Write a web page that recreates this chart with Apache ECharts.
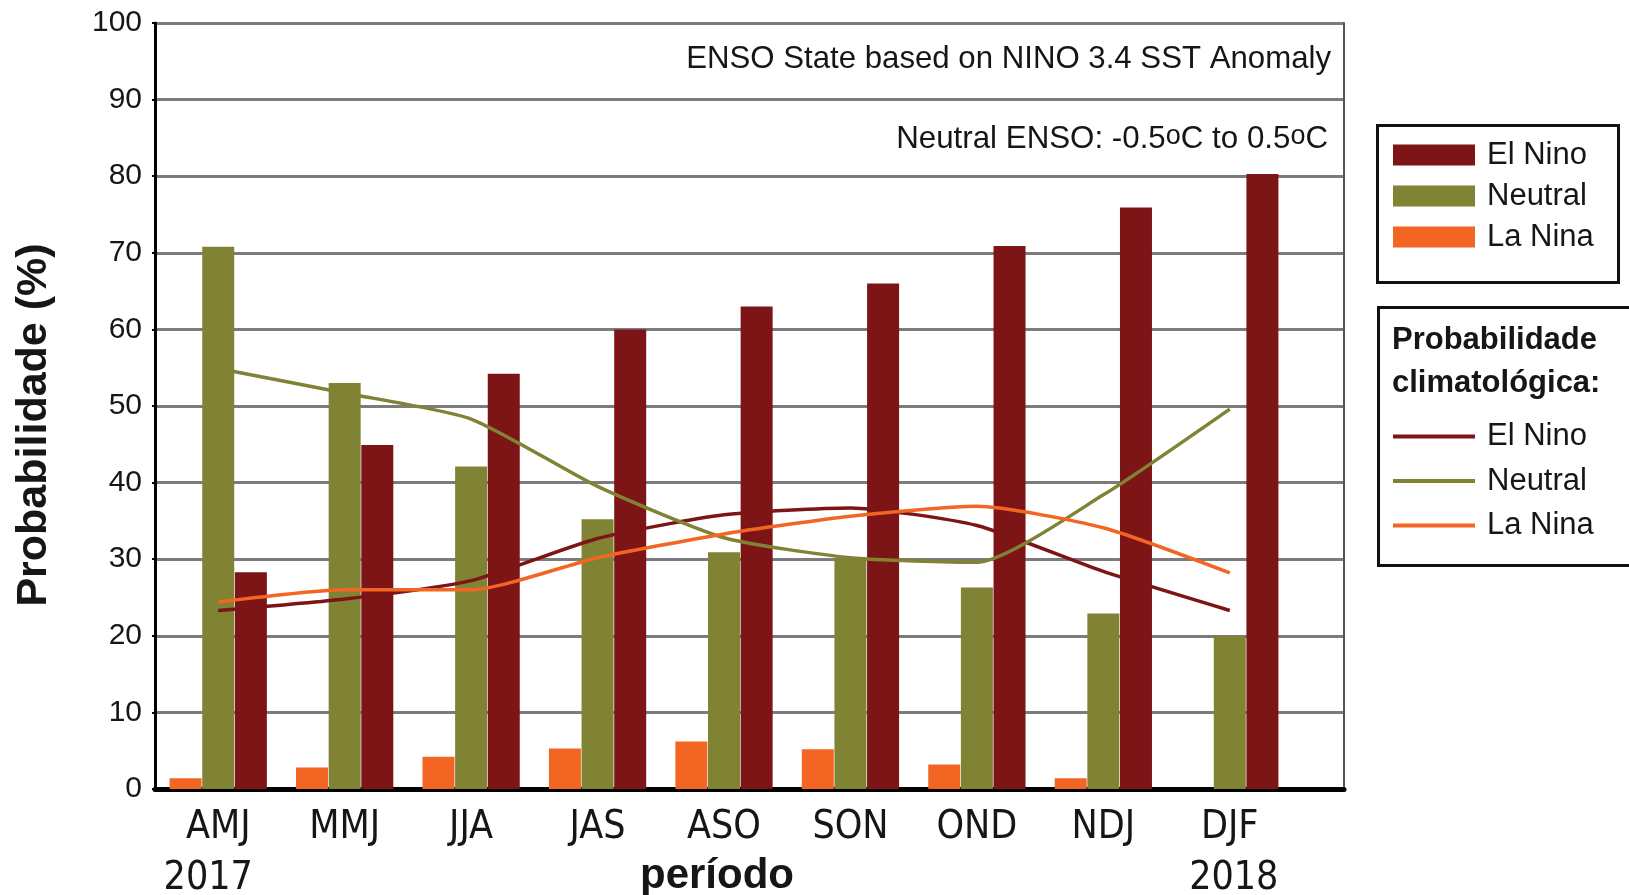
<!DOCTYPE html>
<html>
<head>
<meta charset="utf-8">
<script src="https://cdn.jsdelivr.net/npm/echarts@6/dist/echarts.min.js"></script>
<style>
html,body{margin:0;padding:0;background:#fff;}
#chart{width:1629px;height:895px;}
</style>
</head>
<body>
<div id="chart"></div>
<script>
// ---- data ----
const categories = ['AMJ', 'MMJ', 'JJA', 'JAS', 'ASO', 'SON', 'OND', 'NDJ', 'DJF'];
const yearLabels = ['2017', '', '', '', '', '', '', '', '2018'];
const barElNino = [28.3, 44.9, 54.2, 60.0, 63.0, 66.0, 70.9, 75.9, 80.3];
const barNeutral = [70.8, 53.0, 42.1, 35.2, 30.9, 30.1, 26.3, 22.9, 20.0];
const barLaNina = [1.4, 2.8, 4.2, 5.3, 6.2, 5.2, 3.2, 1.4, 0];
const climElNino = [23.3, 24.8, 27.2, 32.7, 35.8, 36.7, 34.4, 28.4, 23.3];
const climNeutral = [54.9, 51.7, 48.3, 39.5, 32.8, 30.2, 29.6, 38.4, 49.6];
const climLaNina = [24.4, 26.0, 26.0, 30.2, 33.3, 35.6, 36.9, 34.1, 28.2];
const yMin = 0, yMax = 100, yInterval = 10;

const C_EL = '#7d1416', C_NEU = '#808234', C_LA = '#f26522';
const FONT = '"Liberation Sans", Arial, sans-serif';
const NARROW = '"Liberation Sans Narrow", "Arial Narrow", "DejaVu Sans Condensed", sans-serif';
const TXT = '#161616';

const chart = echarts.init(document.getElementById('chart'), null, {renderer: 'canvas'});

const option = {
  animation: false,
  backgroundColor: '#fff',
  textStyle: {fontFamily: FONT},
  grid: [
    {left: 155, right: 285, top: 23, bottom: 106, containLabel: false, outerBoundsMode: 'none'},
    {left: 155, right: 336, top: 23, bottom: 106, containLabel: false, outerBoundsMode: 'none'}
  ],
  xAxis: [
    {
      type: 'value', gridIndex: 0, min: 0, max: 1,
      axisLine: {show: true, lineStyle: {color: '#000', width: 5}},
      axisTick: {show: false}, axisLabel: {show: false}, splitLine: {show: false}
    },
    {
      type: 'category', gridIndex: 1, data: categories,
      axisLine: {show: false}, axisTick: {show: false},
      axisLabel: {
        margin: 13,
        interval: 0,
        formatter: function (v, i) {
          const y = yearLabels[i];
          if (!y) return '{c|' + v + '}';
          return '{c|' + v + '}\n{' + (i === 0 ? 'ya' : 'yb') + '|' + y + '}';
        },
        rich: {
          c: {fontFamily: NARROW, fontSize: 39, lineHeight: 51, color: TXT},
          ya: {fontFamily: NARROW, fontSize: 39, lineHeight: 51, color: TXT, padding: [0, 20, 0, 0]},
          yb: {fontFamily: NARROW, fontSize: 39, lineHeight: 51, color: TXT, padding: [0, 0, 0, 8]}
        }
      }
    }
  ],
  yAxis: [
    {
      type: 'value', gridIndex: 0, min: yMin, max: yMax, interval: yInterval,
      axisLine: {show: true, onZero: false, lineStyle: {color: '#000', width: 3}},
      axisTick: {show: true, length: 3, lineStyle: {color: '#000', width: 2}},
      axisLabel: {fontSize: 30, color: TXT, margin: 13, fontFamily: FONT},
      splitLine: {show: true, lineStyle: {color: '#7c7c7c', width: 3}}
    },
    {
      type: 'value', gridIndex: 0, position: 'right', min: yMin, max: yMax, interval: yInterval,
      axisLine: {show: true, onZero: false, lineStyle: {color: '#555', width: 2}},
      axisTick: {show: false}, axisLabel: {show: false}, splitLine: {show: false}
    },
    {
      type: 'value', gridIndex: 1, min: yMin, max: yMax, interval: yInterval, show: false,
      splitLine: {show: false}
    }
  ],
  legend: [
    {
      data: ['El Nino', 'Neutral', 'La Nina'],
      orient: 'vertical', left: 1393, top: 139.5, padding: 0,
      icon: 'rect', itemWidth: 82, itemHeight: 21, itemGap: 10,
      textStyle: {fontSize: 31, lineHeight: 21, color: TXT, fontFamily: FONT, padding: [0, 0, 0, 7]}
    },
    {
      data: ['El Nino (clim.)', 'Neutral (clim.)', 'La Nina (clim.)'],
      orient: 'vertical', left: 1393, top: 421, padding: 0,
      icon: 'rect', itemWidth: 82, itemHeight: 4, itemGap: 13.5,
      formatter: function (n) { return n.replace(' (clim.)', ''); },
      textStyle: {fontSize: 31, lineHeight: 21, color: TXT, fontFamily: FONT, padding: [0, 0, 0, 7]}
    }
  ],
  graphic: [
    {type: 'rect', shape: {x: 1377.5, y: 125.5, width: 241, height: 157},
      style: {fill: 'none', stroke: '#111', lineWidth: 3}, z: 10},
    {type: 'rect', shape: {x: 1378.5, y: 307.5, width: 270, height: 258},
      style: {fill: 'none', stroke: '#111', lineWidth: 3}, z: 10},
    {type: 'text', left: 1392, top: 319, z: 10,
      style: {text: 'Probabilidade\nclimatológica:', fontSize: 31, fontWeight: 'bold',
        lineHeight: 43, fill: TXT, fontFamily: FONT}},
    {type: 'text', x: 1331, y: 59, z: 10,
      style: {text: 'ENSO State based on NINO 3.4 SST Anomaly', fontSize: 31.2, fill: TXT,
        fontFamily: FONT, align: 'right', verticalAlign: 'middle'}},
    {type: 'text', x: 1328, y: 139, z: 10,
      style: {text: 'Neutral ENSO: -0.5{s|o}C to 0.5{s|o}C', fontSize: 31.3, lineHeight: 31, fill: TXT,
        fontFamily: FONT, align: 'right', verticalAlign: 'middle',
        rich: {s: {fontSize: 27, lineHeight: 18, verticalAlign: 'top', fill: TXT, fontFamily: FONT}}}},
    {type: 'text', x: 34, y: 425, rotation: Math.PI / 2, z: 10,
      style: {text: 'Probabilidade (%)', fontSize: 43, fontWeight: 'bold', fill: TXT,
        fontFamily: FONT, align: 'center', verticalAlign: 'middle'}},
    {type: 'text', x: 717, y: 876, z: 10,
      style: {text: 'período', fontSize: 42, fontWeight: 'bold', fill: TXT,
        fontFamily: FONT, align: 'center', verticalAlign: 'middle'}}
  ],
  series: [
    {name: 'La Nina', type: 'bar', xAxisIndex: 1, yAxisIndex: 2, data: barLaNina,
      barWidth: 32, barGap: '2%', itemStyle: {color: C_LA}},
    {name: 'Neutral', type: 'bar', xAxisIndex: 1, yAxisIndex: 2, data: barNeutral,
      barWidth: 32, barGap: '2%', itemStyle: {color: C_NEU}},
    {name: 'El Nino', type: 'bar', xAxisIndex: 1, yAxisIndex: 2, data: barElNino,
      barWidth: 32, barGap: '2%', itemStyle: {color: C_EL}},
    {name: 'El Nino (clim.)', type: 'line', xAxisIndex: 1, yAxisIndex: 2, data: climElNino,
      symbol: 'none', smooth: 0.2, z: 5, lineStyle: {color: C_EL, width: 3.5}, itemStyle: {color: C_EL}},
    {name: 'Neutral (clim.)', type: 'line', xAxisIndex: 1, yAxisIndex: 2, data: climNeutral,
      symbol: 'none', smooth: 0.2, z: 5, lineStyle: {color: C_NEU, width: 3.5}, itemStyle: {color: C_NEU}},
    {name: 'La Nina (clim.)', type: 'line', xAxisIndex: 1, yAxisIndex: 2, data: climLaNina,
      symbol: 'none', smooth: 0.2, z: 5, lineStyle: {color: C_LA, width: 3.5}, itemStyle: {color: C_LA}}
  ]
};
chart.setOption(option);
</script>
</body>
</html>
